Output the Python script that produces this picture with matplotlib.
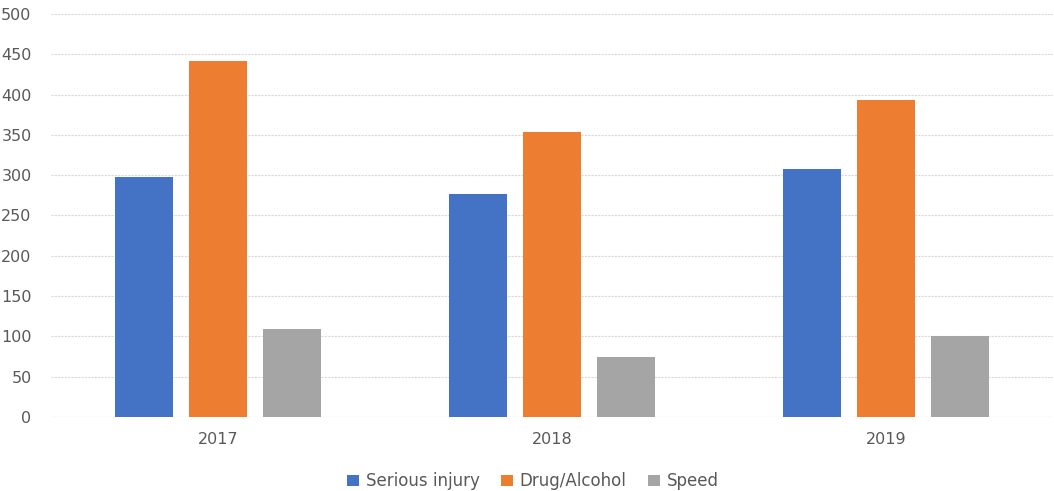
import matplotlib.pyplot as plt
import numpy as np

years = ['2017', '2018', '2019']
serious_injury = [298, 277, 308]
drug_alcohol = [442, 353, 393]
speed = [109, 74, 101]

series = [('Serious injury', serious_injury, '#4472c4'),
          ('Drug/Alcohol', drug_alcohol, '#ed7d31'),
          ('Speed', speed, '#a5a5a5')]

fig = plt.figure(figsize=(10.54, 4.91), dpi=100)
ax = fig.add_axes([0.0484, 0.1507, 0.9507, 0.8208])

x = np.arange(len(years))
w = 0.174
step = 0.222
for i, (name, vals, col) in enumerate(series):
    ax.bar(x + (i - 1) * step, vals, w, color=col, label=name, zorder=3)

ax.set_ylim(0, 500)
ax.set_xlim(-0.5, 2.5)
ax.set_yticks(range(0, 501, 50))
ax.set_xticks(x)
ax.set_xticklabels(years)
ax.yaxis.grid(True, color='#d9d9d9', linestyle=(0, (2, 1)), linewidth=0.8, zorder=0)
for s in ax.spines.values():
    s.set_visible(False)
ax.axhline(0, color='#d9d9d9', linewidth=0.8, zorder=1)
ax.tick_params(axis='both', length=0, colors='#595959', labelsize=11.5)
ax.tick_params(axis='y', pad=14)
ax.tick_params(axis='x', pad=11)

ax.legend(loc='upper center', bbox_to_anchor=(0.481, -0.1), ncol=3, frameon=False,
          fontsize=12, labelcolor='#595959', handlelength=0.7, handleheight=0.7,
          handletextpad=0.4, columnspacing=1.3)

fig.savefig('out.png', dpi=100)
